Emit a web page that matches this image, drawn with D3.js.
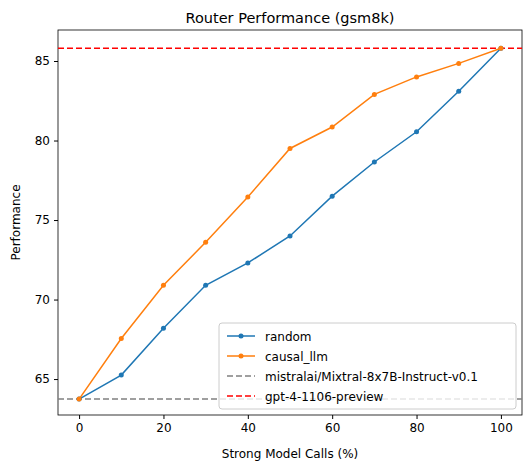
<!DOCTYPE html>
<html><head><meta charset="utf-8">
<script src="https://cdn.jsdelivr.net/npm/d3@7"></script>
<style>body{margin:0;background:#fff}text{font-family:"DejaVu Sans",sans-serif}</style>
</head><body><svg id="svg"></svg>
<script>
const xs = [0, 10, 20, 30, 40, 50, 60, 70, 80, 90, 100];
const randomVals = [63.74, 65.25, 68.2, 70.9, 72.3, 74.0, 76.5, 78.65, 80.55, 83.1, 85.8];
const causalVals = [63.74, 67.55, 70.9, 73.6, 76.45, 79.5, 80.85, 82.9, 84.0, 84.85, 85.8];
const mixtralLine = 63.74;
const gptLine = 85.8;
const xTicks = [0, 20, 40, 60, 80, 100];
const yTicks = [65, 70, 75, 80, 85];

const svg = d3.select("#svg").attr("width", 531).attr("height", 470);
const mLeft = 58, mRight = 522, mTop = 30, mBottom = 415;
const x = d3.scaleLinear().domain([-5, 105]).range([mLeft, mRight]);
const y = d3.scaleLinear().domain([62.74, 86.95]).range([mBottom, mTop]);

svg.append("g").attr("transform", `translate(0,${mBottom})`)
  .call(d3.axisBottom(x).tickValues(xTicks).tickSize(4).tickPadding(4))
  .call(g => g.selectAll("text").attr("font-size", 12).attr("fill", "#000"));
svg.append("g").attr("transform", `translate(${mLeft},0)`)
  .call(d3.axisLeft(y).tickValues(yTicks).tickSize(4).tickPadding(4))
  .call(g => g.selectAll("text").attr("font-size", 12).attr("fill", "#000"));
svg.selectAll(".domain").remove();
svg.append("rect").attr("x", mLeft).attr("y", mTop).attr("width", mRight - mLeft).attr("height", mBottom - mTop)
  .attr("fill", "none").attr("stroke", "#000").attr("stroke-width", 0.8);

const hl = (v, c) => svg.append("line").attr("x1", mLeft).attr("x2", mRight)
  .attr("y1", y(v)).attr("y2", y(v)).attr("stroke", c).attr("stroke-width", 1.5).attr("stroke-dasharray", "6,3");
hl(mixtralLine, "gray");
hl(gptLine, "red");

const line = d3.line().x((d, i) => x(xs[i])).y(d => y(d));
[[randomVals, "#1f77b4"], [causalVals, "#ff7f0e"]].forEach(([vals, c]) => {
  svg.append("path").attr("d", line(vals)).attr("fill", "none").attr("stroke", c).attr("stroke-width", 1.5);
  svg.selectAll(null).data(vals).enter().append("circle")
    .attr("cx", (d, i) => x(xs[i])).attr("cy", d => y(d)).attr("r", 2.5).attr("fill", c);
});

svg.append("text").attr("x", (mLeft + mRight) / 2).attr("y", 23).attr("text-anchor", "middle")
  .attr("font-size", 14.5).text("Router Performance (gsm8k)");
svg.append("text").attr("x", (mLeft + mRight) / 2).attr("y", 458).attr("text-anchor", "middle")
  .attr("font-size", 12).text("Strong Model Calls (%)");
svg.append("text").attr("transform", `translate(20,${(mTop + mBottom) / 2}) rotate(-90)`).attr("text-anchor", "middle")
  .attr("font-size", 12).text("Performance");

const legend = [
  ["random", "#1f77b4", false], ["causal_llm", "#ff7f0e", false],
  ["mistralai/Mixtral-8x7B-Instruct-v0.1", "gray", true], ["gpt-4-1106-preview", "red", true]
];
const lg = svg.append("g").attr("transform", "translate(219,323)");
lg.append("rect").attr("width", 297).attr("height", 86).attr("rx", 3)
  .attr("fill", "rgba(255,255,255,0.8)").attr("stroke", "#ccc");
legend.forEach(([name, c, dashed], i) => {
  const yy = 13 + i * 20;
  lg.append("line").attr("x1", 8).attr("x2", 36).attr("y1", yy).attr("y2", yy)
    .attr("stroke", c).attr("stroke-width", 1.5).attr("stroke-dasharray", dashed ? "6,3" : null);
  if (!dashed) lg.append("circle").attr("cx", 22).attr("cy", yy).attr("r", 2.5).attr("fill", c);
  lg.append("text").attr("x", 46).attr("y", yy + 4.5).attr("font-size", 12).text(name);
});
</script></body></html>
